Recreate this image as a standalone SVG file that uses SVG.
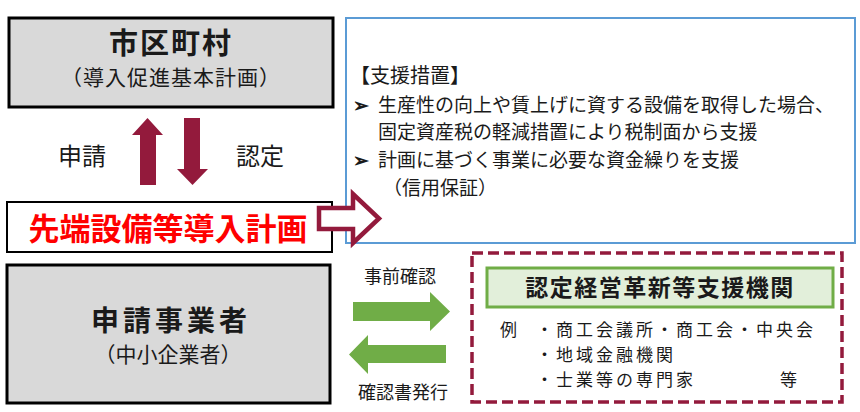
<svg xmlns="http://www.w3.org/2000/svg" width="860" height="412" viewBox="0 0 860 412">
<style>
text{font-family:"Noto Sans CJK JP","Noto Sans",sans-serif;fill:#1a1a1a}
.gray{fill:#d9d9d9;stroke:#000;stroke-width:3}
.title{font-weight:bold;text-anchor:middle}
.mid{text-anchor:middle}
.red{fill:#931a3c}
.green{fill:#70ad47}
.body{font-size:19px}
.ex{font-size:17px;letter-spacing:3px}
</style>
<rect width="860" height="412" fill="#fff"/>

<g id="support">
<rect x="346" y="18" width="509" height="225" fill="#fff" stroke="#5b9bd5" stroke-width="2"/>
<text x="350" y="83" font-size="20">【支援措置】</text>
<text x="353" y="112" class="body" font-weight="bold">➢</text>
<text x="378" y="112" class="body">生産性の向上や賃上げに資する設備を取得した場合、</text>
<text x="378" y="139" class="body">固定資産税の軽減措置により税制面から支援</text>
<text x="353" y="167" class="body" font-weight="bold">➢</text>
<text x="378" y="167" class="body">計画に基づく事業に必要な資金繰りを支援</text>
<text x="383" y="195" class="body">（信用保証）</text>
</g>

<g id="city">
<rect x="9" y="18" width="324" height="89" class="gray"/>
<text x="171" y="54" class="title" font-size="29" letter-spacing="2">市区町村</text>
<text x="171" y="85" class="mid" font-size="21" letter-spacing="1">（導入促進基本計画）</text>
</g>

<g id="plan">
<rect x="7" y="202" width="325" height="50" fill="#fff" stroke="#000" stroke-width="2"/>
<text x="168" y="240" class="title" font-size="31" style="fill:#ff0000">先端設備等導入計画</text>
</g>

<g id="applicant">
<rect x="7" y="265" width="323" height="138" class="gray"/>
<text x="171" y="331" class="title" font-size="28" letter-spacing="4">申請事業者</text>
<text x="168" y="362" class="mid" font-size="21">（中小企業者）</text>
</g>

<g id="support-org">
<rect x="472" y="253" width="370" height="149" fill="#fff" stroke="#931a3c" stroke-width="3.5" stroke-dasharray="11 5"/>
<rect x="487" y="268" width="346" height="39" fill="#e2efda" stroke="#70ad47" stroke-width="3"/>
<text x="660" y="296" class="title" font-size="23" letter-spacing="1.5">認定経営革新等支援機関</text>
<text x="500" y="336" class="ex">例</text>
<text x="536" y="336" class="ex">・商工会議所・商工会・中央会</text>
<text x="536" y="361" class="ex">・地域金融機関</text>
<text x="536" y="386" class="ex">・士業等の専門家</text>
<text x="780" y="386" class="ex">等</text>
</g>

<g id="connectors">
<path class="red" d="M140,185 L156,185 L156,135 L163,135 L147.5,118 L132,135 L140,135 Z"/>
<path class="red" d="M184,118 L200,118 L200,169 L208,169 L192.5,185 L177,169 L184,169 Z"/>
<path d="M319,208 L353,208 L353,194 L379,218.5 L353,243 L353,229 L319,229 Z" fill="#fff" stroke="#931a3c" stroke-width="4.5" stroke-linejoin="miter"/>
<path class="green" d="M353,302 L430,302 L430,292 L450,311.5 L430,331 L430,321 L353,321 Z"/>
<path class="green" d="M446,345 L368,345 L368,335 L349,354.5 L368,374 L368,363 L446,363 Z"/>
<text x="82" y="165" class="mid" font-size="24">申請</text>
<text x="260" y="165" class="mid" font-size="24">認定</text>
<text x="400" y="283" class="mid" font-size="18">事前確認</text>
<text x="403" y="399" class="mid" font-size="18">確認書発行</text>
</g>
</svg>
